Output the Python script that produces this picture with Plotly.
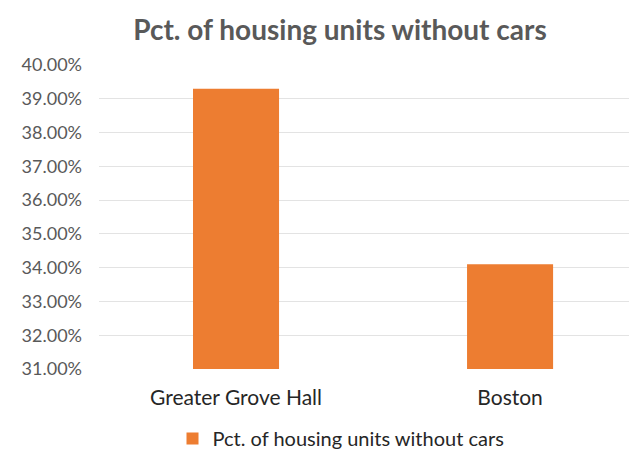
import plotly.graph_objects as go

categories = ["Greater Grove Hall", "Boston"]
pct_without_cars = [39.3, 34.1]
series_name = "Pct. of housing units without cars"
y_ticks = [31, 32, 33, 34, 35, 36, 37, 38, 39, 40]

text_color = "#595959"
font_family = "Lato, 'Open Sans', sans-serif"

fig = go.Figure(
    go.Bar(
        x=[0, 1],
        y=pct_without_cars,
        name=series_name,
        marker=dict(color="#ED7D31", line=dict(width=0)),
        width=0.314,
        showlegend=True,
    )
)

fig.update_layout(
    width=629,
    height=458,
    margin=dict(l=99, r=0, t=65, b=88),
    paper_bgcolor="white",
    plot_bgcolor="white",
    font=dict(family=font_family, color=text_color),
    title=dict(
        text="<b>" + series_name + "</b>",
        x=340 / 629,
        xref="container",
        xanchor="center",
        y=1 - 30 / 458,
        yref="container",
        yanchor="middle",
        font=dict(size=28, color=text_color, family=font_family),
    ),
    xaxis=dict(
        range=[-0.5, 1.434],
        tickmode="array",
        tickvals=[0, 1],
        ticktext=categories,
        showgrid=False,
        zeroline=False,
        showline=False,
        ticks="",
        ticklabelstandoff=14,
        tickfont=dict(size=21, color="#262626"),
    ),
    yaxis=dict(
        range=[31, 40],
        tickmode="array",
        tickvals=y_ticks,
        ticktext=[f"{v:.2f}%" for v in y_ticks],
        showgrid=True,
        gridcolor="#E3E3E3",
        gridwidth=1,
        zeroline=False,
        showline=False,
        ticks="",
        ticklabelstandoff=16,
        tickfont=dict(size=18, color=text_color),
    ),
    legend=dict(
        orientation="h",
        x=(341 - 99) / 530,
        xanchor="center",
        y=-70 / 305,
        yanchor="middle",
        font=dict(size=20, color="#262626"),
        itemsizing="constant",
        itemwidth=30,
    ),
    bargap=0.686,
)

fig.write_html("out.html")
